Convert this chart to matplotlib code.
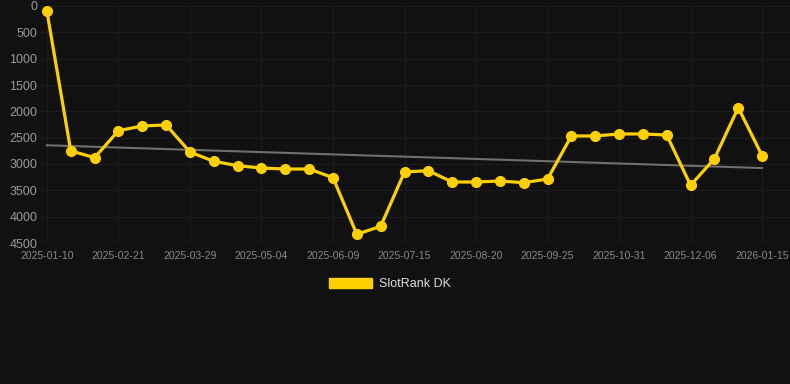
import matplotlib
matplotlib.use("Agg")
import matplotlib.pyplot as plt
import matplotlib.patches as mpatches
import numpy as np

plt.rcParams["font.family"] = ["Liberation Sans", "DejaVu Sans"]

# rank values per snapshot (lower = better)
ranks = [100, 2750, 2880, 2367, 2278, 2259, 2772, 2949, 3032, 3076,
         3095, 3095, 3260, 4335, 4183, 3152, 3127, 3342, 3342, 3323,
         3355, 3285, 2468, 2468, 2430, 2430, 2449, 3405, 2899, 1930, 2842]
tick_labels = ["2025-01-10", "2025-02-21", "2025-03-29", "2025-05-04",
               "2025-06-09", "2025-07-15", "2025-08-20", "2025-09-25",
               "2025-10-31", "2025-12-06", "2026-01-15"]
y_ticks = [0, 500, 1000, 1500, 2000, 2500, 3000, 3500, 4000, 4500]

bg = "#111111"
gold = "#FFD000"

fig = plt.figure(figsize=(7.9, 3.84), dpi=100, facecolor=bg)
ax = fig.add_axes([40 / 790, 1 - 243 / 384, 750 / 790, 237 / 384])
ax.set_facecolor(bg)

x = np.arange(len(ranks))

# trend line (linear fit)
coef = np.polyfit(x, ranks, 1)
ax.plot(x, np.polyval(coef, x), color="#707070", lw=1.5, zorder=2)

ax.plot(x, ranks, color=gold, lw=2.3, marker="o", ms=7, zorder=3)

ax.set_ylim(4500, 0)
ax.set_xlim(-0.29, 31.17)
ax.set_yticks(y_ticks)
ax.set_yticklabels([str(v) for v in y_ticks], fontsize=9, color="#999999")
ax.set_xticks(x[::3])
ax.set_xticklabels(tick_labels, fontsize=7.5, color="#888888")
ax.tick_params(length=0)
ax.tick_params(axis="y", pad=2)
ax.tick_params(axis="x", pad=6)
ax.grid(True, color="#1d1d1d", lw=0.8)
for s in ax.spines.values():
    s.set_visible(False)
ax.axhline(4500, color="#2b2b2b", lw=1, zorder=1)

handle = mpatches.Patch(color=gold)
fig.legend([handle], ["SlotRank DK"], loc="center", bbox_to_anchor=(390 / 790, 1 - 284 / 384),
           frameon=False, fontsize=9, labelcolor="#dddddd",
           handlelength=3.4, handleheight=0.9, handletextpad=0.6)

fig.savefig("out.png", dpi=100, facecolor=bg)
